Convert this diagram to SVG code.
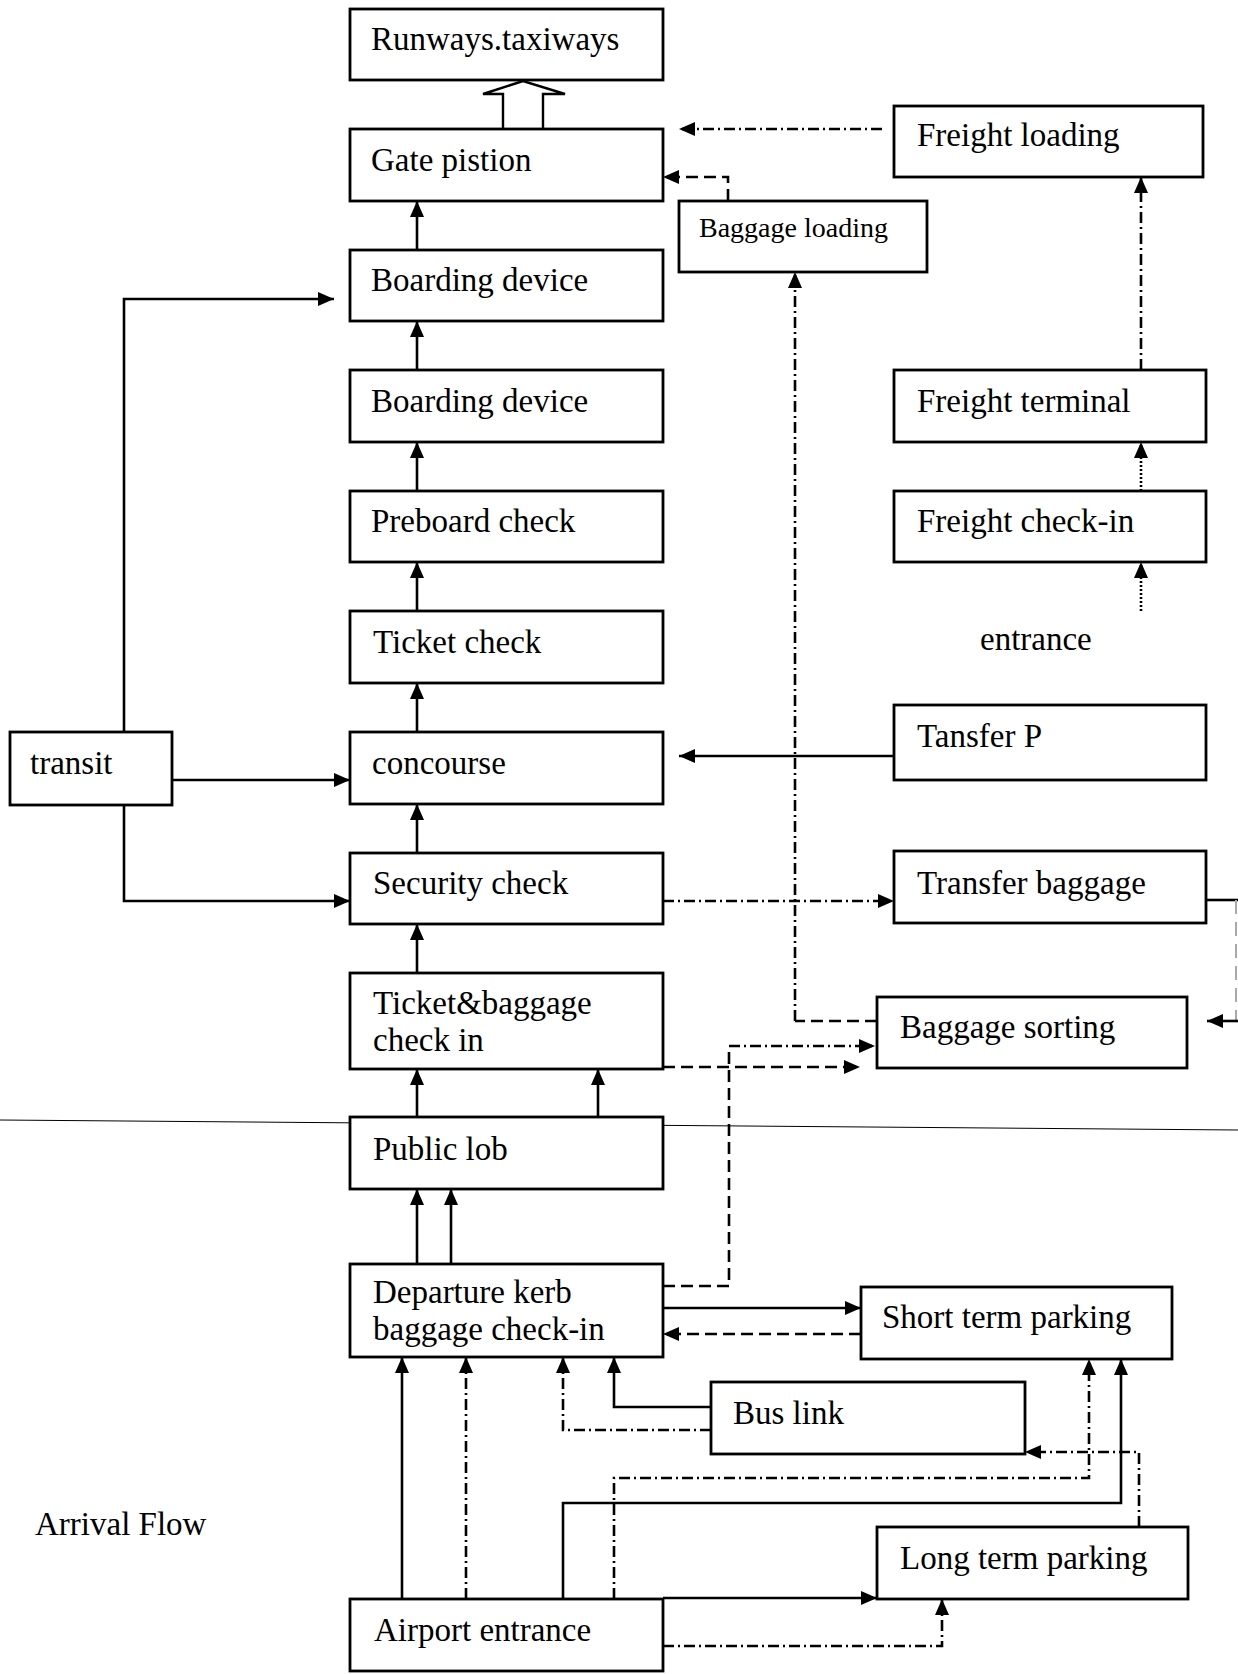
<svg xmlns="http://www.w3.org/2000/svg" width="1238" height="1674" viewBox="0 0 1238 1674">
<style>
.box{fill:#fff;stroke:#000;stroke-width:2.8}
.t{font-family:"Liberation Serif","Times New Roman",serif;font-size:33px;fill:#000}
.ts{font-family:"Liberation Serif","Times New Roman",serif;font-size:28px;fill:#000}
.c{fill:none;stroke:#000;stroke-width:2.6}
.dd{stroke-dasharray:11,4,2,4}
.da{stroke-dasharray:12,6}
.dt{stroke-dasharray:2,2}
</style>
<defs>
<marker id="ah" markerUnits="userSpaceOnUse" markerWidth="16" markerHeight="14" refX="16" refY="7" orient="auto">
<path d="M0,0 L16,7 L0,14 z" fill="#000"/>
</marker>
</defs>
<rect width="1238" height="1674" fill="#fff"/>
<line x1="0" y1="1120" x2="1238" y2="1130" stroke="#000" stroke-width="1"/>
<g id="connectors">
<path class="c" d="M417,250 L417,201" marker-end="url(#ah)"/>
<path class="c" d="M417,370 L417,321" marker-end="url(#ah)"/>
<path class="c" d="M417,491 L417,442" marker-end="url(#ah)"/>
<path class="c" d="M417,611 L417,562" marker-end="url(#ah)"/>
<path class="c" d="M417,732 L417,683" marker-end="url(#ah)"/>
<path class="c" d="M417,853 L417,804" marker-end="url(#ah)"/>
<path class="c" d="M417,973 L417,924" marker-end="url(#ah)"/>
<path class="c" d="M417,1117 L417,1069" marker-end="url(#ah)"/>
<path class="c" d="M598,1117 L598,1069" marker-end="url(#ah)"/>
<path class="c" d="M417,1264 L417,1189" marker-end="url(#ah)"/>
<path class="c" d="M451,1264 L451,1189" marker-end="url(#ah)"/>
<path d="M503,129 L503,94 L483,94 L523,81 L565,94 L543,94 L543,129" fill="#fff" stroke="#000" stroke-width="2.4"/>
<path class="c" d="M124,732 L124,299 L334,299" marker-end="url(#ah)"/>
<path class="c" d="M172,780 L350,780" marker-end="url(#ah)"/>
<path class="c" d="M124,805 L124,901 L350,901" marker-end="url(#ah)"/>
<path class="c dd" d="M882,129 L679,129" marker-end="url(#ah)"/>
<path class="c da" d="M728,201 L728,177 L663,177" marker-end="url(#ah)"/>
<path class="c dd" d="M1141,370 L1141,177" marker-end="url(#ah)"/>
<path class="c dt" d="M1141,491 L1141,442" marker-end="url(#ah)"/>
<path class="c dt" d="M1141,611 L1141,562" marker-end="url(#ah)"/>
<path class="c" d="M894,756 L679,756" marker-end="url(#ah)"/>
<path class="c dd" d="M663,901 L894,901" marker-end="url(#ah)"/>
<path class="c" d="M1206,900 L1238,900"/>
<path d="M1236,900 L1236,1021" fill="none" stroke="#aaa" stroke-width="2" stroke-dasharray="14,8"/>
<path class="c" d="M1238,1021 L1207,1021" marker-end="url(#ah)"/>
<path class="c da" d="M877,1021 L795,1021"/>
<path class="c dd" d="M795,1021 L795,272" marker-end="url(#ah)"/>
<path class="c da" d="M663,1067 L860,1067" marker-end="url(#ah)"/>
<path class="c da" d="M663,1286 L729,1286 L729,1046"/>
<path class="c dd" d="M729,1046 L875,1046" marker-end="url(#ah)"/>
<path class="c" d="M663,1308 L861,1308" marker-end="url(#ah)"/>
<path class="c da" d="M861,1334 L663,1334" marker-end="url(#ah)"/>
<path class="c" d="M711,1407 L614,1407 L614,1357" marker-end="url(#ah)"/>
<path class="c dd" d="M711,1430 L563,1430 L563,1357" marker-end="url(#ah)"/>
<path class="c" d="M402,1599 L402,1357" marker-end="url(#ah)"/>
<path class="c dd" d="M466,1599 L466,1357" marker-end="url(#ah)"/>
<path class="c" d="M563,1599 L563,1503 L1121,1503 L1121,1359" marker-end="url(#ah)"/>
<path class="c dd" d="M614,1599 L614,1478 L1089,1478 L1089,1359" marker-end="url(#ah)"/>
<path class="c" d="M663,1598 L877,1598" marker-end="url(#ah)"/>
<path class="c dd" d="M663,1646 L942,1646 L942,1599" marker-end="url(#ah)"/>
<path class="c dd" d="M1139,1527 L1139,1452 L1025,1452" marker-end="url(#ah)"/>
</g>
<g id="runways"><rect class="box" x="350" y="9" width="313" height="71"/><text class="t" x="371" y="50">Runways.taxiways</text></g>
<g id="gate"><rect class="box" x="350" y="129" width="313" height="72"/><text class="t" x="371" y="171">Gate pistion</text></g>
<g id="boarding1"><rect class="box" x="350" y="250" width="313" height="71"/><text class="t" x="371" y="291">Boarding device</text></g>
<g id="boarding2"><rect class="box" x="350" y="370" width="313" height="72"/><text class="t" x="371" y="412">Boarding device</text></g>
<g id="preboard"><rect class="box" x="350" y="491" width="313" height="71"/><text class="t" x="371" y="532">Preboard check</text></g>
<g id="ticket"><rect class="box" x="350" y="611" width="313" height="72"/><text class="t" x="373" y="653">Ticket check</text></g>
<g id="concourse"><rect class="box" x="350" y="732" width="313" height="72"/><text class="t" x="372" y="774">concourse</text></g>
<g id="security"><rect class="box" x="350" y="853" width="313" height="71"/><text class="t" x="373" y="894">Security check</text></g>
<g id="ticketbaggage"><rect class="box" x="350" y="973" width="313" height="96"/><text class="t" x="373" y="1014">Ticket&amp;baggage</text><text class="t" x="373" y="1051">check in</text></g>
<g id="publiclob"><rect class="box" x="350" y="1117" width="313" height="72"/><text class="t" x="373" y="1160">Public lob</text></g>
<g id="departure"><rect class="box" x="350" y="1264" width="313" height="93"/><text class="t" x="373" y="1303">Departure kerb</text><text class="t" x="373" y="1340">baggage check-in</text></g>
<g id="airport"><rect class="box" x="350" y="1599" width="313" height="72"/><text class="t" x="374" y="1641">Airport entrance</text></g>
<g id="transit"><rect class="box" x="10" y="732" width="162" height="73"/><text class="t" x="30" y="774">transit</text></g>
<g id="freightloading"><rect class="box" x="894" y="106" width="309" height="71"/><text class="t" x="917" y="146">Freight loading</text></g>
<g id="baggageloading"><rect class="box" x="679" y="201" width="248" height="71"/><text class="ts" x="699" y="237">Baggage loading</text></g>
<g id="freightterminal"><rect class="box" x="894" y="370" width="312" height="72"/><text class="t" x="917" y="412">Freight terminal</text></g>
<g id="freightcheckin"><rect class="box" x="894" y="491" width="312" height="71"/><text class="t" x="917" y="532">Freight check-in</text></g>
<g id="entrance"><text class="t" x="980" y="650">entrance</text></g>
<g id="tansferp"><rect class="box" x="894" y="705" width="312" height="75"/><text class="t" x="917" y="747">Tansfer P</text></g>
<g id="transferbaggage"><rect class="box" x="894" y="851" width="312" height="72"/><text class="t" x="917" y="894">Transfer baggage</text></g>
<g id="baggagesorting"><rect class="box" x="877" y="997" width="310" height="71"/><text class="t" x="900" y="1038">Baggage sorting</text></g>
<g id="shortterm"><rect class="box" x="861" y="1287" width="311" height="72"/><text class="t" x="882" y="1328">Short term parking</text></g>
<g id="buslink"><rect class="box" x="711" y="1382" width="314" height="72"/><text class="t" x="733" y="1424">Bus link</text></g>
<g id="longterm"><rect class="box" x="877" y="1527" width="311" height="72"/><text class="t" x="900" y="1569">Long term parking</text></g>
<g id="arrivalflow"><text class="t" x="35" y="1535">Arrival Flow</text></g>
</svg>
